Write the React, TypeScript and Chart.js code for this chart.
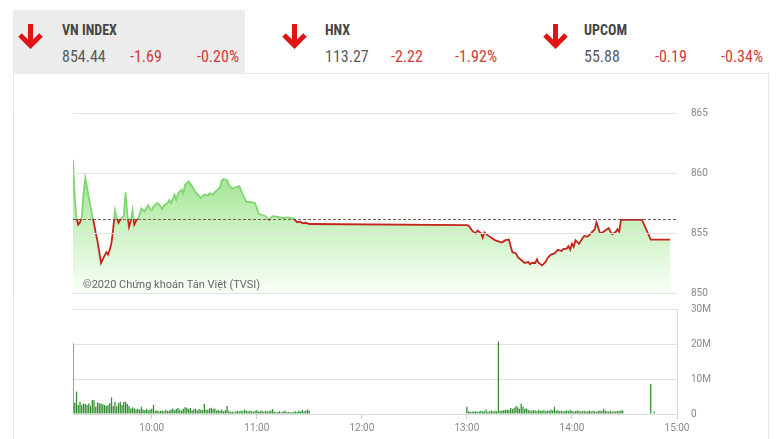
import React, { useEffect, useRef } from "react";
import { Chart, registerables } from "chart.js";
Chart.register(...registerables);

// ---------- DATA ----------
const REF_PRICE = 856.13;

const priceTimes = [
  "9:15","9:16","9:17","9:18","9:19","9:20","9:21","9:22","9:23","9:24","9:25","9:26","9:27","9:28","9:29",
  "9:30","9:31","9:32","9:33","9:34","9:35","9:36","9:37","9:38","9:39","9:40","9:41","9:42","9:43","9:44",
  "9:45","9:46","9:47","9:48","9:49","9:50","9:51","9:52","9:53","9:54","9:55","9:56","9:57","9:58","9:59",
  "10:00","10:01","10:03","10:04","10:06","10:07","10:09","10:10","10:11","10:13","10:14","10:15","10:17","10:18",
  "10:19","10:21","10:23","10:25","10:27","10:28","10:30","10:32","10:33","10:35","10:36","10:39","10:40","10:41",
  "10:43","10:44","10:46","10:48","10:50","10:52","10:54","10:56","10:59","11:01","11:03","11:05","11:07","11:09",
  "11:12","11:15","11:18","11:21","11:23","11:25","11:26","11:28","11:30",
  "13:00","13:01","13:03","13:05","13:06","13:08","13:09","13:10","13:12","13:14","13:16","13:18","13:20","13:22",
  "13:24","13:25","13:26","13:28","13:29","13:31","13:33","13:35","13:36","13:37","13:39","13:40","13:41","13:43",
  "13:45","13:46","13:48","13:50","13:52","13:54","13:55","13:57","13:58","13:59","14:00","14:01","14:02","14:04",
  "14:06","14:07","14:09","14:11","14:13","14:14","14:16","14:17","14:19","14:21","14:22","14:23","14:25","14:26",
  "14:27","14:28","14:40","14:45","14:56",
];
const priceValues = [
  861.1,858.0,856.25,855.7,855.9,856.3,858.2,859.6,858.8,858.0,857.2,856.4,855.8,855.0,854.3,
  853.4,852.5,852.8,853.1,853.4,853.2,853.6,854.2,855.4,856.9,856.2,855.85,856.1,856.3,856.4,
  858.4,856.6,855.5,856.0,856.9,855.7,856.0,856.2,856.5,857.05,856.9,856.8,857.1,857.3,857.0,
  856.9,857.2,857.5,857.4,857.0,857.3,857.5,857.75,857.5,858.2,857.8,858.3,858.6,858.3,
  859.0,859.3,858.9,858.4,858.1,857.9,858.2,858.1,858.3,858.2,858.4,858.8,859.4,859.5,
  859.4,859.0,858.7,858.8,858.9,858.2,857.6,857.6,857.5,856.6,856.5,856.4,856.1,856.4,
  856.35,856.25,856.3,856.2,855.9,855.95,855.8,855.85,855.75,
  855.65,855.6,855.2,854.97,855.2,855.0,854.6,855.05,854.8,854.6,854.4,854.3,854.2,854.4,
  854.45,853.9,853.4,853.3,853.0,852.75,852.5,852.6,852.4,852.5,852.5,852.8,852.5,852.3,
  852.6,852.9,853.2,853.3,853.6,853.5,853.65,853.7,853.9,853.6,854.1,853.85,854.4,854.1,
  854.56,854.75,854.7,855.0,855.3,855.9,855.0,855.0,855.2,855.4,855.1,854.9,855.1,855.3,
  855.1,856.1,856.1,854.44,854.44,
];

// volume (million shares) per minute
const morningStart = "9:15";
const morningVolume = [
  20.2,3.2,6.4,2.6,3.5,2.6,3.0,2.9,2.6,3.0,2.3,4.0,3.9,2.1,3.3,3.1,3.0,2.8,2.6,2.3,
  2.5,3.1,4.7,2.3,3.4,2.2,3.1,3.5,2.6,3.4,3.5,2.9,2.3,1.6,1.9,1.6,1.3,1.5,1.2,2.1,
  1.3,1.1,1.5,1.1,1.3,1.5,2.6,0.9,1.1,0.8,0.9,1.0,0.8,1.2,0.9,1.0,1.3,1.6,1.1,1.4,
  1.7,1.2,1.0,1.5,1.9,1.8,1.4,1.7,1.1,1.3,1.5,1.0,1.4,1.2,1.1,2.9,1.3,1.2,1.6,1.8,
  1.4,1.6,1.0,1.2,0.9,1.3,0.8,1.1,2.3,0.9,0.6,0.7,0.5,0.8,0.9,0.7,1.0,0.8,1.3,0.9,
  0.7,1.0,0.8,0.6,0.9,1.1,0.7,0.8,1.0,0.6,0.9,0.7,0.8,1.0,1.4,0.7,0.5,0.6,0.8,0.4,
  0.7,0.9,0.5,0.6,0.4,0.6,0.5,0.8,0.6,0.9,0.7,1.2,0.8,1.0,1.3,0.9,
];
const afternoonStart = "13:00";
const afternoonVolume = [
  2.1,0.8,0.6,0.7,0.7,0.8,0.6,0.7,0.9,0.7,0.8,1.3,0.6,0.8,1.0,0.7,0.9,0.8,20.7,0.9,
  1.0,1.1,1.2,1.3,1.1,1.7,1.4,1.8,2.3,1.9,1.5,2.9,2.1,1.4,1.6,1.2,1.0,0.9,1.1,1.0,
  0.8,1.2,0.9,1.0,1.1,0.8,1.0,0.9,1.2,1.0,2.1,0.9,1.1,0.8,1.0,0.7,0.9,1.0,0.8,1.2,
  0.9,0.7,0.8,1.0,0.9,0.7,0.8,0.9,0.7,0.8,1.0,0.7,0.9,0.8,0.6,0.9,1.0,0.8,1.4,1.0,
  0.8,0.7,0.9,0.6,0.8,0.7,0.9,0.8,1.1,1.0,
];
const closingTimes = ["14:41", "14:45", "14:47"];
const closingVolume = [0.2, 8.6, 0.7];

const xTickLabels = ["10:00", "11:00", "12:00", "13:00", "14:00", "15:00"];
const priceTicks = [850, 855, 860, 865];
const volumeTicks = [0, 10, 20, 30];

const indices = [
  { name: "VN INDEX", value: "854.44", change: "-1.69", pct: "-0.20%" },
  { name: "HNX", value: "113.27", change: "-2.22", pct: "-1.92%" },
  { name: "UPCOM", value: "55.88", change: "-0.19", pct: "-0.34%" },
];
const watermark = "©2020 Chứng khoán Tân Việt (TVSI)";

// ---------- helpers ----------
const toMin = (t: string) => {
  const [h, m] = t.split(":").map(Number);
  return h * 60 + m;
};
const fmtMin = (v: number) => {
  const h = Math.floor(v / 60);
  const m = Math.round(v - h * 60);
  return `${h}:${m < 10 ? "0" + m : m}`;
};
const X_MIN = toMin("9:15");
const X_MAX = toMin("15:00");

const HEADER_FONT = '"Liberation Sans Narrow", "Roboto Condensed", Roboto, Arial, sans-serif';
const AXIS_FONT = "Roboto, Arial, sans-serif";

// canvases start at the frame's left edge
const CANVAS_LEFT = 13;
const CANVAS_W = 780 - CANVAS_LEFT;
const PLOT_LEFT_PAD = 73 - CANVAS_LEFT;

function Arrow({ left }: { left: number }) {
  return (
    <svg
      width={27}
      height={26}
      style={{ position: "absolute", left, top: 24 }}
      viewBox="0 0 27 26"
    >
      <path d="M13.5 0 V22" stroke="#e01414" strokeWidth={5} fill="none" />
      <path d="M3 11 L13.5 21.5 L24 11" stroke="#e01414" strokeWidth={5} fill="none" strokeLinejoin="miter" />
    </svg>
  );
}

export default function App() {
  const priceRef = useRef<HTMLCanvasElement | null>(null);
  const volRef = useRef<HTMLCanvasElement | null>(null);

  useEffect(() => {
    const priceData = priceTimes.map((t, i) => ({ x: toMin(t), y: priceValues[i] }));
    const volData: { x: number; y: number }[] = [];
    morningVolume.forEach((v, i) => volData.push({ x: toMin(morningStart) + i, y: v }));
    afternoonVolume.forEach((v, i) => volData.push({ x: toMin(afternoonStart) + i, y: v }));
    closingTimes.forEach((t, i) => volData.push({ x: toMin(t), y: closingVolume[i] }));

    const GREEN_LINE = "rgb(128,214,112)";
    const RED_LINE = "rgb(196,36,28)";

    const refLinePlugin = {
      id: "refline",
      afterDatasetsDraw(chart: any) {
        const { ctx, chartArea, scales } = chart;
        const y = Math.round(scales.y.getPixelForValue(REF_PRICE)) + 0.5;
        ctx.save();
        ctx.strokeStyle = "rgba(105,75,65,0.9)";
        ctx.lineWidth = 1;
        ctx.setLineDash([3, 2]);
        ctx.beginPath();
        ctx.moveTo(chartArea.left, y);
        ctx.lineTo(chartArea.right, y);
        ctx.stroke();
        ctx.setLineDash([]);
        ctx.fillStyle = "#666";
        ctx.font = `11px ${AXIS_FONT}`;
        ctx.textBaseline = "middle";
        ctx.fillText(watermark, chartArea.left + 10, chartArea.bottom - 8);
        ctx.restore();
      },
    };

    const yTickCommon = {
      color: "#888",
      font: { size: 10, family: AXIS_FONT },
      padding: 0,
    };

    const priceChart = new Chart(priceRef.current!, {
      type: "line",
      data: {
        datasets: [
          {
            data: priceData,
            borderWidth: 1.8,
            pointRadius: 0,
            tension: 0,
            fill: "start",
            borderColor: (c: any) => {
              const { chart } = c;
              const { chartArea, scales } = chart;
              if (!chartArea) return RED_LINE;
              const yRef = scales.y.getPixelForValue(REF_PRICE);
              const t = Math.min(1, Math.max(0, (yRef - chartArea.top) / (chartArea.bottom - chartArea.top)));
              const g = chart.ctx.createLinearGradient(0, chartArea.top, 0, chartArea.bottom);
              g.addColorStop(0, GREEN_LINE);
              g.addColorStop(t, GREEN_LINE);
              g.addColorStop(t, RED_LINE);
              g.addColorStop(1, RED_LINE);
              return g;
            },
            backgroundColor: (c: any) => {
              const { chart } = c;
              const { chartArea } = chart;
              if (!chartArea) return "rgba(170,230,160,0.6)";
              const g = chart.ctx.createLinearGradient(0, chartArea.top, 0, chartArea.bottom);
              g.addColorStop(0, "rgb(135,218,118)");
              g.addColorStop(0.37, "rgb(165,230,150)");
              g.addColorStop(0.6, "rgb(198,240,188)");
              g.addColorStop(1, "rgb(250,255,249)");
              return g;
            },
          } as any,
        ],
      },
      options: {
        animation: false,
        responsive: true,
        maintainAspectRatio: false,
        layout: { padding: { left: PLOT_LEFT_PAD, top: 13, bottom: 7, right: 0 }, autoPadding: false } as any,
        plugins: { legend: { display: false }, tooltip: { enabled: false } },
        scales: {
          x: { type: "linear", min: X_MIN, max: X_MAX, display: false },
          y: {
            position: "right",
            min: 850,
            max: 865,
            afterBuildTicks: (s: any) => {
              s.ticks = priceTicks.map((v) => ({ value: v }));
            },
            afterFit: (s: any) => {
              s.width = 103;
            },
            ticks: yTickCommon,
            grid: { color: "#e2e2e2", drawTicks: true, tickLength: 14, tickColor: "rgba(0,0,0,0)", z: 1 } as any,
            border: { color: "#dcdcdc" },
          },
        },
      },
      plugins: [refLinePlugin],
    });

    const volChart = new Chart(volRef.current!, {
      type: "bar",
      data: {
        datasets: [
          {
            data: volData as any,
            backgroundColor: "rgb(46,140,46)",
            barPercentage: 0.9,
            categoryPercentage: 0.8,
          },
        ],
      },
      options: {
        animation: false,
        responsive: true,
        maintainAspectRatio: false,
        layout: { padding: { left: PLOT_LEFT_PAD, top: 9, bottom: 0, right: 0 }, autoPadding: false } as any,
        plugins: { legend: { display: false }, tooltip: { enabled: false } },
        scales: {
          x: {
            type: "linear",
            min: X_MIN,
            max: X_MAX,
            offset: false,
            afterBuildTicks: (s: any) => {
              s.ticks = xTickLabels.map((t) => ({ value: toMin(t) }));
            },
            afterFit: (s: any) => {
              s.height = 25;
            },
            ticks: {
              color: "#888",
              font: { size: 10, family: AXIS_FONT },
              padding: 3,
              maxRotation: 0,
              autoSkip: false,
              callback: (v: any) => fmtMin(Number(v)),
            },
            grid: { offset: false, drawOnChartArea: false, drawTicks: true, tickLength: 5, color: "#cfcfcf" },
            border: { color: "#dcdcdc" },
          },
          y: {
            position: "right",
            min: 0,
            max: 30,
            afterBuildTicks: (s: any) => {
              s.ticks = volumeTicks.map((v) => ({ value: v }));
            },
            afterFit: (s: any) => {
              s.width = 103;
            },
            ticks: {
              ...yTickCommon,
              callback: (v: any) => (Number(v) === 0 ? "0" : `${v}M`),
            },
            grid: { color: "#e2e2e2", drawTicks: true, tickLength: 14, tickColor: "rgba(0,0,0,0)" },
            border: { color: "#dcdcdc" },
          },
        },
      },
    });

    return () => {
      priceChart.destroy();
      volChart.destroy();
    };
  }, []);

  const cols = [
    { arrow: 17, text: 62, chg: 130, pct: 197 },
    { arrow: 281, text: 325, chg: 391, pct: 455 },
    { arrow: 542, text: 584, chg: 655, pct: 721 },
  ];

  return (
    <div
      style={{
        position: "absolute",
        left: 0,
        top: 0,
        width: 780,
        height: 439,
        background: "#fff",
        overflow: "hidden",
      }}
    >
      {/* frame */}
      <div
        style={{
          position: "absolute",
          left: 13,
          top: 73,
          width: 754,
          height: 400,
          borderLeft: "1px solid #e6e6e6",
          borderRight: "1px solid #e6e6e6",
          borderTop: "1px solid #e6e6e6",
        }}
      />
      {/* selected tab */}
      <div style={{ position: "absolute", left: 13, top: 10, width: 232, height: 64, background: "#ececec" }} />
      {indices.map((ix, i) => (
        <React.Fragment key={ix.name}>
          <Arrow left={cols[i].arrow} />
          <div
            style={{
              position: "absolute",
              left: cols[i].text,
              top: 23,
              fontFamily: HEADER_FONT,
              fontWeight: "bold",
              fontSize: 14,
              lineHeight: "14px",
              color: "#454545",
              whiteSpace: "nowrap",
            }}
          >
            {ix.name}
          </div>
          <div
            style={{
              position: "absolute",
              left: cols[i].text,
              top: 49,
              fontFamily: HEADER_FONT,
              fontSize: 16,
              lineHeight: "16px",
              color: "#5a5a5a",
              whiteSpace: "nowrap",
            }}
          >
            {ix.value}
          </div>
          <div
            style={{
              position: "absolute",
              left: cols[i].chg,
              top: 49,
              fontFamily: HEADER_FONT,
              fontSize: 16,
              lineHeight: "16px",
              color: "#cf3b3b",
              whiteSpace: "nowrap",
            }}
          >
            {ix.change}
          </div>
          <div
            style={{
              position: "absolute",
              left: cols[i].pct,
              top: 49,
              fontFamily: HEADER_FONT,
              fontSize: 16,
              lineHeight: "16px",
              color: "#cf3b3b",
              whiteSpace: "nowrap",
            }}
          >
            {ix.pct}
          </div>
        </React.Fragment>
      ))}
      <div style={{ position: "absolute", left: CANVAS_LEFT, top: 100, width: CANVAS_W, height: 200 }}>
        <canvas ref={priceRef} />
      </div>
      <div style={{ position: "absolute", left: CANVAS_LEFT, top: 300, width: CANVAS_W, height: 139 }}>
        <canvas ref={volRef} />
      </div>
    </div>
  );
}
